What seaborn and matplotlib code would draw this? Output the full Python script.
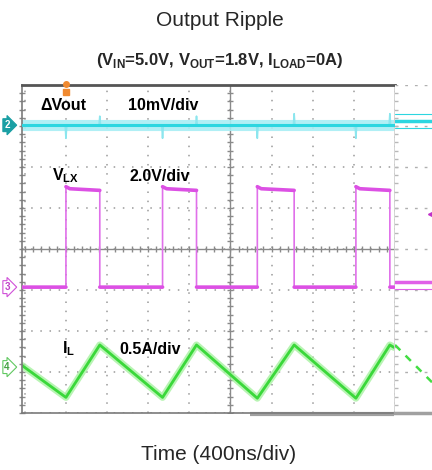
import numpy as np
import matplotlib.pyplot as plt
import seaborn as sns

# scope settings (time in ns, 400 ns/div)
ns_per_div = 400
vout_scale, vout_offset = 10.0, 3.02   # mV/div, div
vlx_scale, vlx_offset = 2.0, -0.93     # V/div, div
il_scale, il_offset = 0.5, -2.88       # A/div, div

# dVout (mV)
vout_t = [-2025, -1605, -1598, -1590, -1276, -1269, -1262, -666, -659, -652,
          -336, -329, -322, 255, 262, 269, 613, 620, 627, 1213, 1220, 1227,
          1543, 1550, 1557, 1590]
vout_mv = [0.0, 0.0, -3.2, 0.0, 0.0, 2.2, 0.0, 0.0, -3.2, 0.0,
           0.0, 2.2, 0.0, 0.0, -3.2, 0.0, 0.0, 2.8, 0.0, 0.0, -3.2, 0.0,
           0.0, 2.8, 0.0, 0.0]

# switch node voltage VLX (V)
vlx_t = [-2025, -1598, -1598, -1560, -1269, -1269, -659, -659, -620, -329, -329,
         262, 262, 300, 620, 620, 1220, 1220, 1258, 1550, 1550, 1590]
vlx_v = [0.0, 0.0, 4.9, 4.8, 4.72, 0.0, 0.0, 4.9, 4.8, 4.72, 0.0,
         0.0, 4.9, 4.8, 4.72, 0.0, 0.0, 4.9, 4.8, 4.72, 0.0, 0.0]

# inductor current IL (A)
il_t = [-2025, -1598, -1269, -659, -329, 262, 620, 1220, 1550, 1590]
il_a = [0.02, -0.37, 0.27, -0.37, 0.27, -0.38, 0.27, -0.38, 0.27, 0.24]

# zoom window on the right (y in div)
side_cyan = [3.29, 3.12, 2.95]
side_magenta = [-0.80, -0.98]
side_green_x = [0.0, 1.0]
side_green_y = [-2.34, -3.25]

sns.set_theme(style="white")
plt.rcParams["font.family"] = ["Liberation Sans", "DejaVu Sans"]

fig = plt.figure(figsize=(4.32, 4.70), dpi=100)
ax = fig.add_axes([22 / 432, 1 - 413 / 470, 373 / 432, 328 / 470])

ax.set_xlim(-2025, 1590)
ax.set_ylim(-4, 4)
ax.set_xticks(np.arange(-2000, 1601, ns_per_div))
ax.set_yticks(np.arange(-4, 5, 1))
ax.set_xticklabels([])
ax.set_yticklabels([])
ax.tick_params(length=0)
ax.grid(True, color="#9a9a9a", linestyle=(0, (1, 5)), linewidth=1.1)
ax.set_axisbelow(True)

# centre crosshair with minor marks
ax.axhline(0, color="#8a8a8a", lw=1.0, zorder=1)
ax.axvline(0, color="#8a8a8a", lw=1.0, zorder=1)
marks_x = np.arange(-2000, 1590, 80)
marks_y = np.arange(-4, 4, 0.2)
ax.plot(marks_x, np.zeros(len(marks_x)), ls="none", marker="|", ms=4,
        color="#8a8a8a", zorder=1)
ax.plot(np.zeros(len(marks_y)), marks_y, ls="none", marker="_", ms=4,
        color="#8a8a8a", zorder=1)
ax.plot(np.full(len(marks_y), -2025), marks_y, ls="none", marker="_", ms=4,
        color="#8a8a8a", zorder=1, clip_on=False)

for side in ["left", "bottom"]:
    ax.spines[side].set_color("#7a7a7a")
    ax.spines[side].set_linewidth(1.2)
ax.spines["right"].set_color("#d0d0d0")
ax.spines["top"].set_color("#555555")
ax.spines["top"].set_linewidth(2.0)

# traces
y_vout = vout_offset + np.array(vout_mv) / vout_scale
y_vlx = vlx_offset + np.array(vlx_v) / vlx_scale
y_il = il_offset + np.array(il_a) / il_scale

# fuzzy cyan band
ax.axhline(vout_offset, color="#a8eef4", lw=8, alpha=0.9, zorder=2)
sns.lineplot(x=vout_t, y=y_vout, estimator=None, sort=False, ax=ax,
             color="#8ce6ee", lw=1.2, zorder=3)
ax.axhline(vout_offset, color="#2cd6e0", lw=2.2, zorder=3)

sns.lineplot(x=vlx_t, y=y_vlx, estimator=None, sort=False, ax=ax,
             color="#e070ea", lw=1.2, zorder=3)
# flat parts of VLX look thicker on the scope
flat_t, flat_y = [], []
for i in range(len(vlx_t) - 1):
    flat_t.append(vlx_t[i])
    flat_y.append(y_vlx[i])
    if vlx_t[i + 1] == vlx_t[i]:
        flat_t.append(np.nan)
        flat_y.append(np.nan)
flat_t.append(vlx_t[-1])
flat_y.append(y_vlx[-1])
ax.plot(flat_t, flat_y, color="#dc50e4", lw=2.6, zorder=3)

sns.lineplot(x=il_t, y=y_il, estimator=None, sort=False, ax=ax,
             color="#a6f2a0", lw=5, alpha=0.8)
sns.lineplot(x=il_t, y=y_il, estimator=None, sort=False, ax=ax,
             color="#3ad83a", lw=2)

# trigger marker
ax.plot([-1598], [3.82], marker="s", ms=5, color="#f08a30", clip_on=False, zorder=5)
ax.plot([-1598], [4.02], marker="o", ms=4, color="#f08a30", clip_on=False, zorder=5)

# scroll bar
ax.plot([194, 1590], [-4.03, -4.03], color="#a0a0a0", lw=3, clip_on=False,
        solid_capstyle="butt")

# channel labels
txt = dict(fontsize=11.5, fontweight="bold", color="black", va="center", zorder=6)
ax.text(-1850, 3.49, "ΔVout", **txt)
ax.text(-998, 3.49, "10mV/div", **txt)
ax.text(-1734, 1.78, r"V$_{\mathregular{LX}}$", **txt)
ax.text(-978, 1.78, "2.0V/div", **txt)
ax.text(-1637, -2.44, r"I$_{\mathregular{L}}$", **txt)
ax.text(-1075, -2.44, "0.5A/div", **txt)

# channel markers
trans = ax.get_yaxis_transform()
for num, yy, fc, ec, tc in [("2", vout_offset, "#1a9fa4", "#1a9fa4", "white"),
                            ("3", vlx_offset, "white", "#d050d8", "#c040c8"),
                            ("4", il_offset, "white", "#60c860", "#40a040")]:
    ax.text(-0.04, yy, num, transform=trans, fontsize=7, fontweight="bold",
            color=tc, ha="center", va="center", clip_on=False,
            bbox=dict(boxstyle="rarrow,pad=0.15", fc=fc, ec=ec, lw=0.8))

# zoom window on the right
ax2 = fig.add_axes([395 / 432, 1 - 413 / 470, 37 / 432, 328 / 470])
ax2.set_xlim(0, 1)
ax2.set_ylim(-4, 4)
ax2.set_xticks([])
ax2.set_yticks(np.arange(-4, 5, 1))
ax2.set_yticklabels([])
ax2.tick_params(length=0)
ax2.grid(True, axis="y", color="#b0b0b0", linestyle=(0, (2, 5)), linewidth=1.0)
for side in ["left", "top", "right"]:
    ax2.spines[side].set_visible(False)
ax2.spines["bottom"].set_color("#a0a0a0")
ax2.spines["bottom"].set_linewidth(2.5)
ax2.plot(np.full(len(marks_y), 0.03), marks_y, ls="none", marker="_", ms=3,
         color="#b8b8b8")
for yy, lw in zip(side_cyan, [0.8, 2.5, 0.8]):
    ax2.axhline(yy, color="#2cd6e0", lw=lw)
for yy, lw in zip(side_magenta, [2.5, 0.8]):
    ax2.axhline(yy, color="#e060e8", lw=lw)
ax2.plot([0.97], [0.85], marker="<", ms=4, color="#c030c8", clip_on=False)
ax2.plot(side_green_x, side_green_y, color="#44dd44", lw=1.8,
         linestyle=(0, (3, 3)))

# titles
fig.text(0.51, 0.957, "Output Ripple", ha="center", va="center", fontsize=15)
fig.text(0.509, 0.872,
         r"(V$_{\mathregular{IN}}$=5.0V, V$_{\mathregular{OUT}}$=1.8V, "
         r"I$_{\mathregular{LOAD}}$=0A)",
         ha="center", va="center", fontsize=12, fontweight="bold")
fig.text(0.507, 0.032, "Time (400ns/div)", ha="center", va="center", fontsize=15)

fig.savefig("out.png", dpi=100)
